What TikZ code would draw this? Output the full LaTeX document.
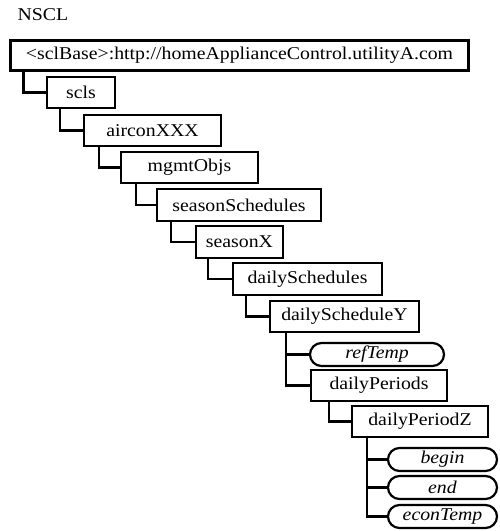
\documentclass[tikz,border=0pt]{standalone}
\usepackage{fontspec}
\setmainfont{Liberation Serif}[FakeStretch=1.1]
\usetikzlibrary{shapes.misc}
\begin{document}
\begin{tikzpicture}[x=1pt,y=-1pt,
  every node/.style={font=\fontsize{18}{20}\selectfont, inner sep=0pt, outer sep=0pt},
  box/.style={draw, line width=2.2pt, rectangle},
  term/.style={draw, line width=2.2pt, rounded rectangle, font=\fontsize{18}{20}\selectfont\itshape},
  conn/.style={line width=2.2pt}]
\useasboundingbox (0,0) rectangle (499,531);
\node (nscl) at (43,14.5) {NSCL};
\node[box, minimum width=458, minimum height=30] (base) at (239.5,55.5) {<sclBase>:http://homeApplianceControl.utilityA.com};
\node[box, minimum width=68, minimum height=31] (scls) at (81,92.5) {scls};
\node[box, minimum width=137, minimum height=31] (aircon) at (152.5,130.5) {airconXXX};
\node[box, minimum width=137, minimum height=31] (mgmt) at (189.5,167.5) {mgmtObjs};
\node[box, minimum width=164, minimum height=32] (ss) at (239,205) {seasonSchedules};
\node[box, minimum width=87, minimum height=32] (sx) at (239.5,242) {seasonX};
\node[box, minimum width=149, minimum height=32] (ds) at (307.5,279) {dailySchedules};
\node[box, minimum width=149, minimum height=31] (dsy) at (344.5,316.5) {dailyScheduleY};
\node[term, minimum width=134, minimum height=23] (ref) at (377,354.5) {refTemp};
\node[box, minimum width=136, minimum height=31] (dp) at (379,385.5) {dailyPeriods};
\node[box, minimum width=136, minimum height=31] (dpz) at (420,421.5) {dailyPeriodZ};
\node[term, minimum width=109, minimum height=23] (begin) at (442.5,459.5) {begin};
\node[term, minimum width=109, minimum height=23] (end) at (442.5,487.5) {end};
\node[term, minimum width=109, minimum height=23] (econ) at (442.5,516.5) {econTemp};
\draw[conn] ([xshift=13]base.south west) |- (scls.west);
\draw[conn] ([xshift=13]scls.south west) |- (aircon.west);
\draw[conn] ([xshift=15]aircon.south west) |- (mgmt.west);
\draw[conn] ([xshift=15]mgmt.south west) |- (ss.west);
\draw[conn] ([xshift=14]ss.south west) |- (sx.west);
\draw[conn] ([xshift=12]sx.south west) |- (ds.west);
\draw[conn] ([xshift=13]ds.south west) |- (dsy.west);
\draw[conn] ([xshift=16]dsy.south west) |- (ref.west);
\draw[conn] ([xshift=16]dsy.south west) |- (dp.west);
\draw[conn] ([xshift=18]dp.south west) |- (dpz.west);
\draw[conn] ([xshift=15]dpz.south west) |- (begin.west);
\draw[conn] ([xshift=15]dpz.south west) |- (end.west);
\draw[conn] ([xshift=15]dpz.south west) |- (econ.west);
\end{tikzpicture}
\end{document}
